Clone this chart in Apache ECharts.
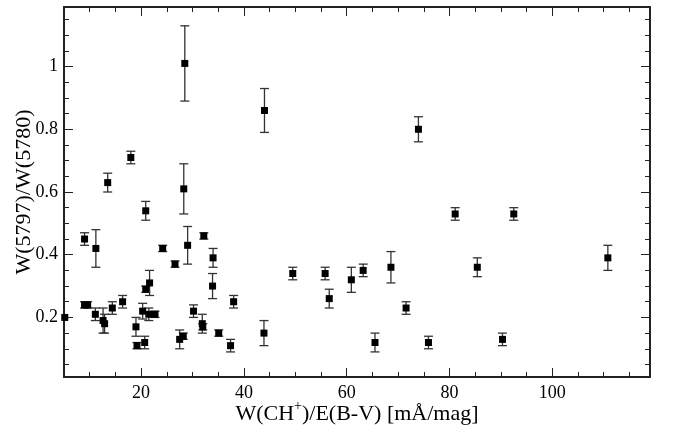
<!DOCTYPE html>
<html>
<head>
<meta charset="utf-8">
<script src="https://cdn.jsdelivr.net/npm/echarts@6/dist/echarts.min.js"></script>
<style>html,body{margin:0;padding:0;background:#fff;}#c{width:675px;height:436px;}</style>
</head>
<body>
<div id="c"></div>
<script>
// Data
var xVals = [5.15, 9.0, 11.2, 13.5, 20.9, 28.3, 29.05, 32.2, 34.0, 33.9, 24.2, 26.6, 9.0, 9.6, 11.1, 12.6, 12.9, 14.4, 16.4, 19.0, 19.2, 20.3, 20.7, 20.9, 21.65, 21.5, 22.7, 27.5, 28.2, 30.2, 31.9, 32.0, 35.1, 37.4, 38.0, 28.5, 18.0, 44.0, 73.95, 81.1, 43.9, 49.5, 55.8, 56.6, 60.9, 63.2, 65.5, 68.6, 71.55, 75.9, 85.4, 92.5, 90.3, 110.8];
var yVals = [0.20, 0.45, 0.42, 0.63, 0.54, 0.61, 0.43, 0.46, 0.39, 0.30, 0.42, 0.37, 0.24, 0.24, 0.21, 0.19, 0.18, 0.23, 0.25, 0.17, 0.11, 0.22, 0.12, 0.29, 0.31, 0.21, 0.21, 0.13, 0.14, 0.22, 0.18, 0.17, 0.15, 0.11, 0.25, 1.01, 0.71, 0.86, 0.80, 0.53, 0.15, 0.34, 0.34, 0.26, 0.32, 0.35, 0.12, 0.36, 0.23, 0.12, 0.36, 0.53, 0.13, 0.39];
var yErr = [0.0, 0.02, 0.06, 0.03, 0.03, 0.08, 0.06, 0.01, 0.03, 0.04, 0.01, 0.01, 0.01, 0.01, 0.02, 0.04, 0.03, 0.02, 0.02, 0.03, 0.01, 0.025, 0.02, 0.01, 0.04, 0.02, 0.01, 0.03, 0.01, 0.02, 0.03, 0.01, 0.01, 0.02, 0.02, 0.12, 0.02, 0.07, 0.04, 0.02, 0.04, 0.02, 0.02, 0.03, 0.04, 0.02, 0.03, 0.05, 0.02, 0.02, 0.03, 0.02, 0.02, 0.04];
var xMajor = [20, 40, 60, 80, 100];
var xMinor = [10, 15, 25, 30, 35, 45, 50, 55, 65, 70, 75, 85, 90, 95, 105, 110, 115];
var yMajor = [0.2, 0.4, 0.6, 0.8, 1];
var yMinor = [0.05, 0.1, 0.15, 0.25, 0.3, 0.35, 0.45, 0.5, 0.55, 0.65, 0.7, 0.75, 0.85, 0.9, 0.95, 1.05, 1.1, 1.15];
var xRange = [5, 119];
var yRange = [0.01, 1.19];

var FONT = 'Liberation Serif';
var pts = xVals.map(function (x, i) { return [x, yVals[i], yErr[i]]; });

function isMajor(v, list) {
  for (var i = 0; i < list.length; i++) { if (Math.abs(v - list[i]) < 1e-6) return true; }
  return false;
}

function xAx(pos, ticks, len, withLabel, withLine) {
  return {
    type: 'value', position: pos, min: xRange[0], max: xRange[1], interval: 5,
    splitLine: { show: false },
    axisLine: { show: withLine, onZero: false, lineStyle: { color: '#222', width: 2 } },
    axisTick: { show: true, inside: true, length: len, customValues: ticks, lineStyle: { color: '#222', width: 1 } },
    axisLabel: { show: withLabel, margin: 7, color: '#000', fontFamily: FONT, fontSize: 18,
      showMinLabel: true, showMaxLabel: true,
      formatter: function (v) { return isMajor(v, xMajor) ? String(v) : ''; } }
  };
}
function yAx(pos, ticks, len, withLabel, withLine) {
  return {
    type: 'value', position: pos, min: yRange[0], max: yRange[1], interval: 0.01,
    splitLine: { show: false },
    axisLine: { show: withLine, onZero: false, lineStyle: { color: '#222', width: 2 } },
    axisTick: { show: true, inside: true, length: len, customValues: ticks, lineStyle: { color: '#222', width: 1 } },
    axisLabel: { show: withLabel, margin: 6, color: '#000', fontFamily: FONT, fontSize: 18,
      hideOverlap: false,
      formatter: function (v) { return isMajor(v, yMajor) ? String(+v.toFixed(2)) : ''; } }
  };
}

var xa0 = xAx('bottom', xMajor, 9, true, true);
xa0.name = '{a|W(CH}{s|+}{a|)/E(B-V) [mÅ/mag]}';
xa0.nameLocation = 'middle';
xa0.nameGap = 22;
xa0.nameMoveOverlap = false;
xa0.nameTextStyle = { rich: {
  a: { fontFamily: FONT, fontSize: 22, color: '#000', verticalAlign: 'bottom', lineHeight: 26 },
  s: { fontFamily: FONT, fontSize: 14, color: '#000', verticalAlign: 'top', lineHeight: 26, padding: [0, 0, 12, 0] }
} };
var ya0 = yAx('left', yMajor, 9, true, true);
ya0.name = 'W(5797)/W(5780)';
ya0.nameLocation = 'middle';
ya0.nameGap = 29;
ya0.nameMoveOverlap = false;
ya0.nameTextStyle = { fontFamily: FONT, fontSize: 22, color: '#000' };

var option = {
  animation: false,
  backgroundColor: '#fff',
  textStyle: { fontFamily: FONT, fontSize: 18 },
  grid: { left: 64, right: 25, top: 7, bottom: 59, containLabel: false, outerBoundsMode: 'none' },
  xAxis: [xa0, xAx('bottom', xMinor, 5, false, false), xAx('top', xMajor, 9, false, true), xAx('top', xMinor, 5, false, false)],
  yAxis: [ya0, yAx('left', yMinor, 5, false, false), yAx('right', yMajor, 9, false, true), yAx('right', yMinor, 5, false, false)],
  series: [
    {
      type: 'custom',
      xAxisIndex: 0, yAxisIndex: 0,
      data: pts,
      renderItem: function (params, api) {
        var x = api.value(0), y = api.value(1), e = api.value(2);
        if (!e) return null;
        var hi = api.coord([x, y + e]);
        var lo = api.coord([x, y - e]);
        var w = 4.5;
        var st = { stroke: '#333', lineWidth: 1.3 };
        return {
          type: 'group',
          children: [
            { type: 'line', shape: { x1: hi[0], y1: hi[1], x2: lo[0], y2: lo[1] }, style: st },
            { type: 'line', shape: { x1: hi[0] - w, y1: hi[1], x2: hi[0] + w, y2: hi[1] }, style: st },
            { type: 'line', shape: { x1: lo[0] - w, y1: lo[1], x2: lo[0] + w, y2: lo[1] }, style: st }
          ]
        };
      },
      z: 2
    },
    {
      type: 'scatter',
      xAxisIndex: 0, yAxisIndex: 0,
      data: pts,
      symbol: 'rect',
      symbolSize: 7,
      itemStyle: { color: '#000', opacity: 1 },
      z: 3
    }
  ]
};
echarts.init(document.getElementById('c'), null, { renderer: 'canvas' }).setOption(option);
</script>
</body>
</html>
